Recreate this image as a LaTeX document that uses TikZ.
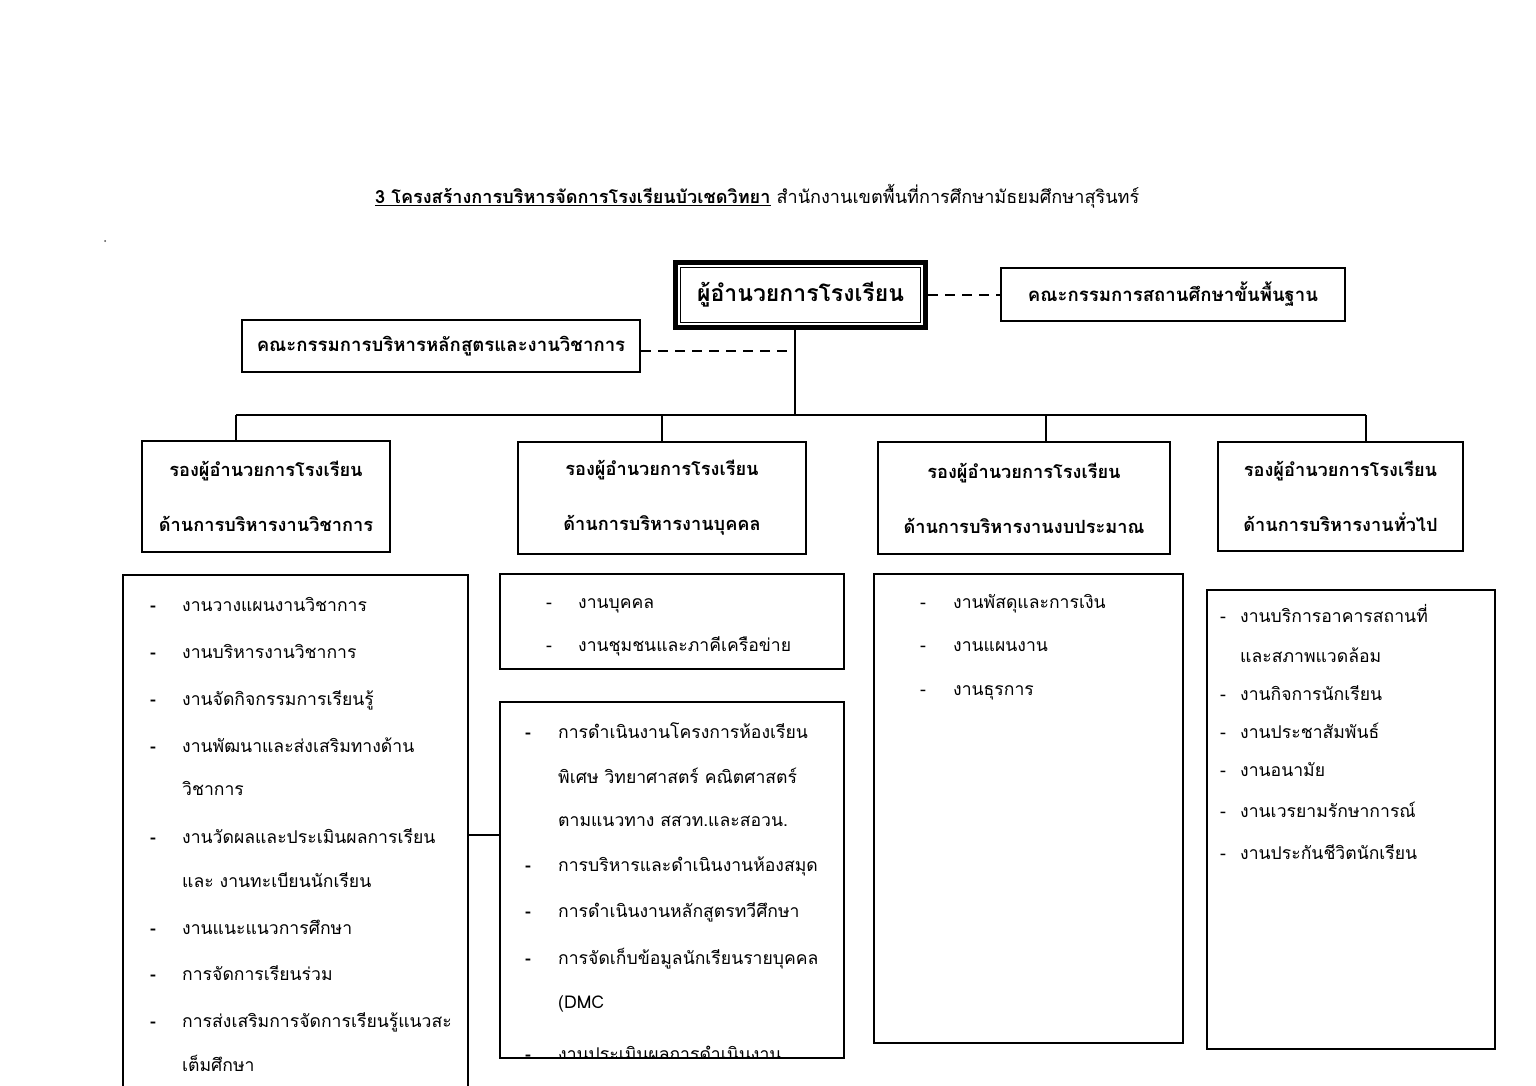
\documentclass[tikz,border=0pt]{standalone}
\usepackage{fontspec}
\newfontfamily\thai[Script=Thai]{Loma}
\newcommand\lsitem[5]{\node[item] (#1d) at (#2,#4) {-}; \node[item] (#1) at (#3,#4) {#5};}
\newcommand\lsitemb[5]{\node[item] (#1d) at (#2,#4) {\bfseries -}; \node[item] (#1) at (#3,#4) {#5};}
\newcommand\lscont[4]{\node[item] (#1) at (#2,#3) {#4};}
\begin{document}
\begin{tikzpicture}[x=1pt,y=-1pt,
  rolebox/.style={draw,line width=2.4,align=center,inner sep=0,
    font=\thai\bfseries\fontsize{18.2}{55}\selectfont},
  combox/.style={draw,line width=2.4,inner sep=0,font=\thai\bfseries\fontsize{18.6}{22}\selectfont},
  listbox/.style={draw,line width=1.3,inner sep=0},
  item/.style={anchor=base west,inner sep=0,font=\thai\fontsize{17.6}{22}\selectfont},
  conn/.style={line width=2.2},
  dashline/.style={line width=2.4,dash pattern=on 10pt off 7pt}]
\useasboundingbox (0,0) rectangle (1536,1086);
\fill[white] (0,0) rectangle (1536,1086);
% title
\node[anchor=base west,inner sep=0,font=\thai\fontsize{18.1}{20}\selectfont] (title) at (375,204)
  {\textbf{\underline{3 โครงสร้างการบริหารจัดการโรงเรียนบัวเชดวิทยา}} สำนักงานเขตพื้นที่การศึกษามัธยมศึกษาสุรินทร์};
\node[circle,fill=black!70,inner sep=0,minimum size=2] (dot) at (105,241) {};
% director
\node[draw,line width=5,minimum width=250,minimum height=65,inner sep=0,
  font=\thai\bfseries\fontsize{23}{26}\selectfont] (dir) at (800.5,295) {ผู้อำนวยการโรงเรียน};
\draw[line width=1.4] ([shift={(7.5,7.5)}]dir.north west) rectangle ([shift={(-7.5,-7.5)}]dir.south east);
% committees
\node[combox,minimum width=344,minimum height=53] (cr) at (1173,294.5) {คณะกรรมการสถานศึกษาขั้นพื้นฐาน};
\node[combox,minimum width=398,minimum height=52] (cl) at (441,346) {คณะกรรมการบริหารหลักสูตรและงานวิชาการ};
\coordinate (trunk) at (795,415);
\draw[dashline] (dir.east) -- (cr.west |- dir.east);
\draw[dashline] (cl.east |- 0,351) -- (trunk |- 0,351);
% deputy boxes
\node[rolebox,minimum width=248,minimum height=111] (ra) at (266,496.5) {รองผู้อำนวยการโรงเรียน\\ด้านการบริหารงานวิชาการ};
\node[rolebox,minimum width=288,minimum height=112] (rb) at (662,498) {รองผู้อำนวยการโรงเรียน\\ด้านการบริหารงานบุคคล};
\node[rolebox,minimum width=292,minimum height=112] (rc) at (1024,498) {รองผู้อำนวยการโรงเรียน\\ด้านการบริหารงานงบประมาณ};
\node[rolebox,minimum width=245,minimum height=109] (rd) at (1340.5,496.5) {รองผู้อำนวยการโรงเรียน\\ด้านการบริหารงานทั่วไป};
% tree
\coordinate (da) at (236,415);
\coordinate (db) at (662,415);
\coordinate (dc) at (1046,415);
\coordinate (dd) at (1366,415);
\draw[conn] (trunk |- dir.south) -- (trunk);
\draw[conn] (da) -- (dd);
\draw[conn] (da) -- (da |- ra.north);
\draw[conn] (db) -- (db |- rb.north);
\draw[conn] (dc) -- (dc |- rc.north);
\draw[conn] (dd) -- (dd |- rd.north);
% list boxes
\node[listbox,minimum width=345,minimum height=625] (la) at (295.5,887.5) {};
\node[listbox,minimum width=344,minimum height=95] (lb1) at (672,621.5) {};
\node[listbox,minimum width=344,minimum height=356] (lb2) at (672,880) {};
\node[listbox,minimum width=309,minimum height=469] (lc) at (1028.5,808.5) {};
\node[listbox,minimum width=288,minimum height=459] (ld) at (1351,819.5) {};
\coordinate (j) at (484,835);
\draw[line width=1.3] (la.east |- j) -- (lb2.west |- j);
% list A
\lsitemb{a1}{150}{182}{611}{งานวางแผนงานวิชาการ}
\lsitemb{a2}{150}{182}{658}{งานบริหารงานวิชาการ}
\lsitemb{a3}{150}{182}{705}{งานจัดกิจกรรมการเรียนรู้}
\lsitemb{a4}{150}{182}{752}{งานพัฒนาและส่งเสริมทางด้าน}
\lscont{a4b}{182}{795}{วิชาการ}
\lsitemb{a5}{150}{182}{843}{งานวัดผลและประเมินผลการเรียน}
\lscont{a5b}{182}{887}{และ งานทะเบียนนักเรียน}
\lsitemb{a6}{150}{182}{934}{งานแนะแนวการศึกษา}
\lsitemb{a7}{150}{182}{980}{การจัดการเรียนร่วม}
\lsitemb{a8}{150}{182}{1027}{การส่งเสริมการจัดการเรียนรู้แนวสะ}
\lscont{a8b}{182}{1071}{เต็มศึกษา}
% list B1
\lsitem{b1}{546}{578}{608}{งานบุคคล}
\lsitem{b2}{546}{578}{651}{งานชุมชนและภาคีเครือข่าย}
% list B2
\lsitemb{c1}{525}{558}{738}{การดำเนินงานโครงการห้องเรียน}
\lscont{c1b}{558}{783}{พิเศษ วิทยาศาสตร์ คณิตศาสตร์}
\lscont{c1c}{558}{826}{ตามแนวทาง สสวท.และสอวน.}
\lsitemb{c2}{525}{558}{871}{การบริหารและดำเนินงานห้องสมุด}
\lsitemb{c3}{525}{558}{917}{การดำเนินงานหลักสูตรทวีศึกษา}
\lsitemb{c4}{525}{558}{964}{การจัดเก็บข้อมูลนักเรียนรายบุคคล}
\lscont{c4b}{558}{1008}{(DMC}
\begin{scope}
\clip (lb2.north west) rectangle (lb2.south east);
\lsitemb{c5}{525}{558}{1060}{งานประเมินผลการดำเนินงาน}
\end{scope}
% list C
\lsitem{d1}{920}{953}{608}{งานพัสดุและการเงิน}
\lsitem{d2}{920}{953}{651}{งานแผนงาน}
\lsitem{d3}{920}{953}{695}{งานธุรการ}
% list D
\lsitem{e1}{1220}{1240}{622}{งานบริการอาคารสถานที่}
\lscont{e1b}{1240}{662}{และสภาพแวดล้อม}
\lsitem{e2}{1220}{1240}{700}{งานกิจการนักเรียน}
\lsitem{e3}{1220}{1240}{738}{งานประชาสัมพันธ์}
\lsitem{e4}{1220}{1240}{776}{งานอนามัย}
\lsitem{e5}{1220}{1240}{817}{งานเวรยามรักษาการณ์}
\lsitem{e6}{1220}{1240}{859}{งานประกันชีวิตนักเรียน}
\end{tikzpicture}
\end{document}
